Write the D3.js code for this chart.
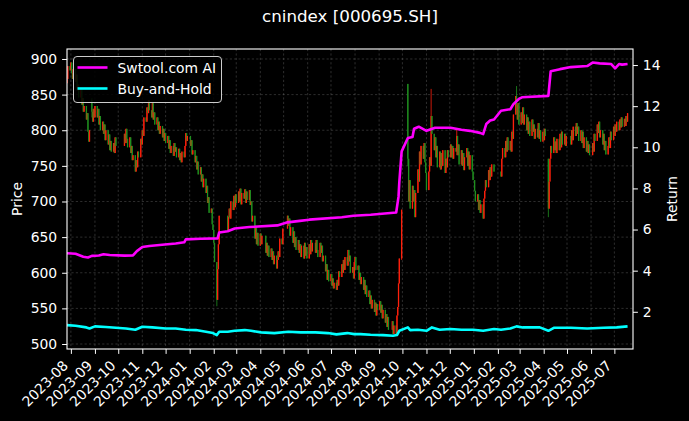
<!DOCTYPE html>
<html><head><meta charset="utf-8">
<script src="https://cdn.jsdelivr.net/npm/d3@7"></script>
<style>
html,body{margin:0;padding:0;background:#000;}
svg{display:block;font-family:"DejaVu Sans",sans-serif;}
</style></head><body>
<svg id="chart" width="689" height="421"></svg>
<script>
// ---------------- DATA ----------------
const chartTitle = "cnindex [000695.SH]";
const firstDay = "2023-07-27", lastDay = "2025-07-18", axisEnd = "2025-07-25";
const holidays = ["2023-09-29","2023-10-02","2023-10-03","2023-10-04","2023-10-05","2023-10-06",
  "2024-01-01","2024-02-09","2024-02-12","2024-02-13","2024-02-14","2024-02-15","2024-02-16",
  "2024-04-04","2024-04-05","2024-05-01","2024-05-02","2024-05-03","2024-06-10",
  "2024-09-16","2024-09-17","2024-10-01","2024-10-02","2024-10-03","2024-10-04","2024-10-07",
  "2025-01-01","2025-01-28","2025-01-29","2025-01-30","2025-01-31","2025-02-03","2025-02-04",
  "2025-04-04","2025-05-01","2025-05-02","2025-05-05","2025-06-02"];
const firstOpen = 866;
const closes2023 = [
  872,890,884,
  895,880,872,886, 868,878,856,864,846, 858,836,845,826,834, 815,824,798,784,800, 826,812,830,818,
  834, 818,830,808,820,800, 812,795,808,786,800, 780,794,772,785,770, 782,768,790,778,
  795,782,802,788,776, 790,768,778,758,765, 742,758,748,770,762, 788,780,
  800,792,818, 812,832,824,842,828, 818,838,815,825,808, 818,800,812,795,806, 790,802,785,796,
  782, 792,774,786,768,778, 764,782,770,776,762, 774,758,768,755,770, 762,778,796,785,792];
const closes2024 = [
  778,786,766,772, 755,764,745,756,738, 748,728,738,720,732, 712,722,698,706,684, 690,668,660,
  642,615, 562,605,640,680, 660,678,690,676,700, 688,708,692,710,
  698, 714,700,718,696,712, 704,717,698,714,702, 716,695,700,672,680, 648,664,640,656,638,
  655,640,652, 628,642,624,638,622, 634,618,630,612,624, 606,618,630,622,648, 640,662,
  680,666,676,652,664, 642,658,636,650,632, 646,628,640,622,638, 620,642,624,636,620,
  640,626,646,630,642, 628,646,632,622, 642,628,638,616,624, 602,612,590,604,588,
  598,582,592,578,586, 576,590,582,602,594, 612,600,618,604,622, 610,632,616,624,600, 608,592,615,
  622,604, 610,590,600,584,594, 576,590,570,582,566, 575,556,568,550,562, 545,558,540,556,548,
  560,544,555,536,548, 530,542,524,538,520, 532,514,526, 512,540,552,585,620, 688,
  760,700,730,690, 722,700,716,678,712, 745,728,770,752,778, 760,782,755,740,
  716, 742,762,750,820,795, 772,790,762,778,748, 770,745,768,750,772, 740,760,748,772,762,
  780,762,778,760,775, 770,792,765,780,752, 772,750,768,744,762, 775,750,770,745,765, 742,730];
const closes2025 = [
  715,700, 710,688,702,684,696, 676,704,715,730,720, 744,730,748,735,752, 742,
  735,760,775, 762,785,770,790,772, 785,770,798,788,822, 848,835,815,838,808,
  825,810,832,808,822, 800,818,795,812,792, 815,798,808,788,802, 790,810,788,800,784, 798,
  786,802,792, 690,728,760,778,768, 790,772,784,768,788, 772,795,776,798,780, 795,778,792,
  780,800,786,805, 792,810,795,805,785, 800,782,798,775,790, 770,785,768,780,765,
  782,770,795,785, 808,796,812,790,800, 780,795,772,785,766, 778,790,775,798,786, 805,
  792,808,798,812, 800,815,804,818,805, 816,806,820,812,824];
const openOverrides = [["2023-08-28",842],["2024-10-08",865],["2025-04-07",760]];
const wickOverrides = [["2023-08-28",845,818],["2024-02-05",615,553],["2024-09-30",689,618],
  ["2024-10-08",865,750],["2024-11-07",858,750],["2024-12-10",801,765],["2025-02-25",862,822],
  ["2025-04-07",760,678]];
const aiReturn = [["2023-07-27",4.85],["2023-08-07",4.82],["2023-08-17",4.68],["2023-08-23",4.64],
  ["2023-08-28",4.72],["2023-09-06",4.74],["2023-09-12",4.80],["2023-09-20",4.76],["2023-10-09",4.73],
  ["2023-10-20",4.74],["2023-10-25",4.95],["2023-11-01",5.15],["2023-11-10",5.20],["2023-11-30",5.27],
  ["2023-12-14",5.32],["2023-12-25",5.38],["2023-12-27",5.52],["2024-01-15",5.55],["2024-02-06",5.57],
  ["2024-02-08",5.86],["2024-02-19",5.92],["2024-02-28",6.05],["2024-03-18",6.12],["2024-04-23",6.20],
  ["2024-05-06",6.35],["2024-05-22",6.42],["2024-06-03",6.48],["2024-07-15",6.60],["2024-07-30",6.67],
  ["2024-08-21",6.72],["2024-09-23",6.83],["2024-09-26",7.60],["2024-09-27",8.30],["2024-09-30",9.80],
  ["2024-10-08",10.45],["2024-10-14",10.50],["2024-10-16",10.90],["2024-10-22",11.00],["2024-11-01",10.80],
  ["2024-11-12",10.95],["2024-12-02",10.95],["2024-12-16",10.85],["2024-12-27",10.80],["2025-01-09",10.70],
  ["2025-01-13",10.64],["2025-01-17",11.13],["2025-01-22",11.30],["2025-01-27",11.35],["2025-02-05",11.78],
  ["2025-02-17",11.85],["2025-02-21",12.10],["2025-02-28",12.35],["2025-03-04",12.43],["2025-04-07",12.50],
  ["2025-04-10",13.70],["2025-04-22",13.80],["2025-05-06",13.90],["2025-05-27",13.95],["2025-06-03",14.12],
  ["2025-06-12",14.08],["2025-06-27",14.05],["2025-07-02",13.84],["2025-07-07",14.05],["2025-07-11",14.02],
  ["2025-07-18",14.05]];
const bhReturn = [["2023-07-27",1.35],["2023-08-07",1.32],["2023-08-21",1.24],["2023-08-25",1.19],
  ["2023-09-01",1.29],["2023-09-15",1.26],["2023-09-28",1.22],["2023-10-11",1.19],["2023-10-23",1.125],
  ["2023-11-01",1.27],["2023-11-14",1.24],["2023-12-01",1.19],["2023-12-14",1.19],["2023-12-27",1.125],
  ["2024-01-09",1.11],["2024-01-22",1.03],["2024-01-31",0.964],["2024-02-05",0.867],["2024-02-08",1.03],
  ["2024-02-19",1.03],["2024-02-28",1.076],["2024-03-12",1.11],["2024-03-20",1.076],["2024-04-02",0.998],
  ["2024-04-19",0.964],["2024-05-07",1.03],["2024-05-23",0.998],["2024-06-11",0.998],["2024-06-27",0.964],
  ["2024-07-08",0.90],["2024-07-22",0.964],["2024-07-31",0.915],["2024-08-08",0.915],["2024-08-21",0.88],
  ["2024-09-06",0.867],["2024-09-19",0.833],["2024-09-24",0.867],["2024-09-27",1.076],["2024-10-08",1.24],
  ["2024-10-11",1.11],["2024-10-21",1.125],["2024-11-01",1.076],["2024-11-08",1.24],["2024-11-18",1.125],
  ["2024-12-02",1.16],["2024-12-16",1.125],["2024-12-31",1.125],["2025-01-13",1.076],["2025-01-27",1.16],
  ["2025-02-05",1.125],["2025-02-17",1.19],["2025-02-25",1.29],["2025-03-05",1.24],["2025-03-27",1.24],
  ["2025-04-07",1.076],["2025-04-14",1.22],["2025-05-06",1.22],["2025-05-27",1.19],["2025-06-17",1.22],
  ["2025-07-04",1.24],["2025-07-18",1.29]];
const priceTicks = [500,550,600,650,700,750,800,850,900];
const returnTicks = [2,4,6,8,10,12,14];
const legendLabels = ["Swtool.com AI","Buy-and-Hold"];
const seriesColors = ["#ff00ff","#00ffff"];

// ---------------- BUILD ----------------
const parse = d3.utcParse("%Y-%m-%d");
const fmt = d3.utcFormat("%Y-%m-%d");
const hol = new Set(holidays);
const tradingDays = d3.utcDay.range(parse(firstDay), d3.utcDay.offset(parse(lastDay),1))
  .filter(d => d.getUTCDay()!==0 && d.getUTCDay()!==6 && !hol.has(fmt(d)));
const closes = closes2023.concat(closes2024, closes2025);
const oMap = new Map(openOverrides), wMap = new Map(wickOverrides.map(w=>[w[0],[w[1],w[2]]]));
const n = Math.min(tradingDays.length, closes.length);
const candles = [];
for (let i=0;i<n;i++){
  const key = fmt(tradingDays[i]);
  const o = oMap.has(key) ? oMap.get(key) : (i===0 ? firstOpen : closes[i-1]);
  const c = closes[i];
  const w = wMap.get(key);
  candles.push({date:tradingDays[i], open:o, close:c,
    high: w ? w[0] : Math.max(o,c), low: w ? w[1] : Math.min(o,c)});
}

const W=689,H=421, L=67,R=633,T=49,B=349;
const svg = d3.select("#chart");
svg.append("rect").attr("width",W).attr("height",H).attr("fill","#000");

const x = d3.scaleUtc().domain([parse(firstDay), parse(axisEnd)]).range([L,R]);
const yP = d3.scaleLinear().domain([493,914]).range([B,T]);
const yR = d3.scaleLinear().domain([0.19,14.78]).range([B,T]);
const monthTicks = d3.utcMonth.range(parse("2023-08-01"), parse("2025-07-02"));

svg.append("defs").append("clipPath").attr("id","clip")
  .append("rect").attr("x",L).attr("y",T).attr("width",R-L).attr("height",B-T);

// grid
const grid = svg.append("g").attr("stroke","#8a8a8a").attr("stroke-opacity",0.55)
  .attr("stroke-width",0.6).attr("stroke-dasharray","2.2,2.2");
grid.selectAll("line.v").data(monthTicks).join("line")
  .attr("x1",d=>x(d)).attr("x2",d=>x(d)).attr("y1",T).attr("y2",B);
grid.selectAll("line.h").data(priceTicks).join("line")
  .attr("y1",d=>yP(d)).attr("y2",d=>yP(d)).attr("x1",L).attr("x2",R);

const plot = svg.append("g").attr("clip-path","url(#clip)");
const upC = "#ff200c", downC = "#1f8f1f";
plot.selectAll("line.wick").data(candles).join("line")
  .attr("x1",d=>x(d.date)).attr("x2",d=>x(d.date))
  .attr("y1",d=>yP(d.high)).attr("y2",d=>yP(d.low))
  .attr("stroke",d=>d.close>=d.open?upC:downC).attr("stroke-width",0.8);
plot.selectAll("rect.body").data(candles).join("rect")
  .attr("x",d=>x(d.date)-0.65).attr("width",1.3)
  .attr("y",d=>yP(Math.max(d.open,d.close)))
  .attr("height",d=>Math.max(0.7, Math.abs(yP(d.open)-yP(d.close))))
  .attr("fill",d=>d.close>=d.open?upC:downC);

const line = d3.line().x(d=>x(parse(d[0]))).y(d=>yR(d[1]));
plot.append("path").datum(aiReturn).attr("d",line).attr("fill","none")
  .attr("stroke",seriesColors[0]).attr("stroke-width",2.6).attr("stroke-linejoin","round");
plot.append("path").datum(bhReturn).attr("d",line).attr("fill","none")
  .attr("stroke",seriesColors[1]).attr("stroke-width",2.6).attr("stroke-linejoin","round");

// axes
const fs = "13.9px";
function styleAxis(g){
  g.select(".domain").remove();
  g.selectAll(".tick line").attr("stroke","#fff").attr("stroke-width",1);
  g.selectAll(".tick text").attr("fill","#fff").style("font-size",fs).style("font-family","DejaVu Sans");
}
svg.append("g").attr("transform",`translate(${L},0)`)
  .call(d3.axisLeft(yP).tickValues(priceTicks).tickSize(4.9).tickPadding(4.9).tickFormat(d3.format("d")))
  .call(styleAxis);
svg.append("g").attr("transform",`translate(${R},0)`)
  .call(d3.axisRight(yR).tickValues(returnTicks).tickSize(4.9).tickPadding(4.9).tickFormat(d3.format("d")))
  .call(styleAxis);
const xa = svg.append("g").attr("transform",`translate(0,${B})`)
  .call(d3.axisBottom(x).tickValues(monthTicks).tickSize(4.9).tickFormat(d3.utcFormat("%Y-%m")))
  .call(styleAxis);
xa.selectAll(".tick text").attr("text-anchor","end").attr("dy",null).attr("y",null)
  .attr("transform","translate(-2.3,17.5) rotate(-45)").attr("dominant-baseline","auto");

// spines
svg.append("rect").attr("x",L).attr("y",T).attr("width",R-L).attr("height",B-T)
  .attr("fill","none").attr("stroke","#fff").attr("stroke-width",1.1);

// labels
svg.append("text").attr("x",350).attr("y",22).attr("text-anchor","middle").attr("fill","#fff")
  .style("font-size","16.7px").text(chartTitle);
svg.append("text").attr("transform","translate(17,199) rotate(-90)").attr("text-anchor","middle")
  .attr("dominant-baseline","central").attr("fill","#fff").style("font-size",fs).text("Price");
svg.append("text").attr("transform","translate(672,199) rotate(-90)").attr("text-anchor","middle")
  .attr("dominant-baseline","central").attr("fill","#fff").style("font-size",fs).text("Return");

// legend
const lg = svg.append("g");
lg.append("rect").attr("x",73.5).attr("y",56.5).attr("width",148).attr("height",46).attr("rx",3.5)
  .attr("fill","#000").attr("fill-opacity",0.85).attr("stroke","#cccccc").attr("stroke-width",1);
legendLabels.forEach((lab,i)=>{
  const yy = 67.5 + i*21;
  lg.append("line").attr("x1",77.5).attr("x2",107.5).attr("y1",yy).attr("y2",yy)
    .attr("stroke",seriesColors[i]).attr("stroke-width",2.6);
  lg.append("text").attr("x",117.5).attr("y",yy).attr("dominant-baseline","central")
    .attr("fill","#fff").style("font-size",fs).text(lab);
});
</script>
</body></html>
